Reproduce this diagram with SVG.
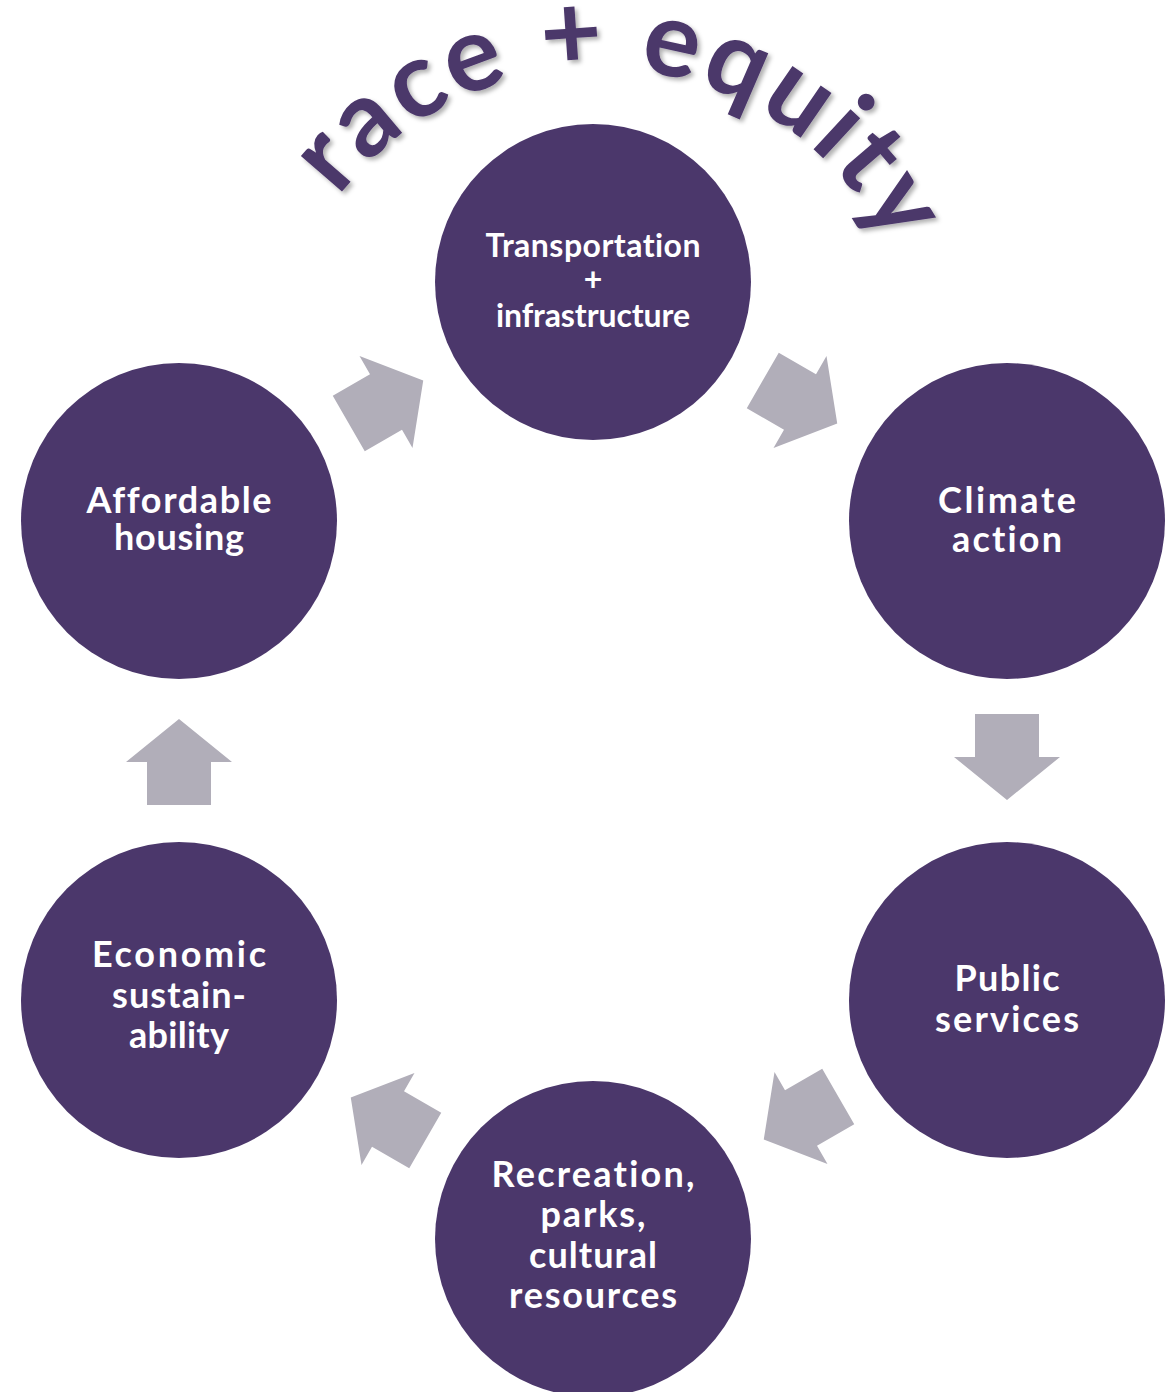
<svg xmlns="http://www.w3.org/2000/svg" xmlns:xlink="http://www.w3.org/1999/xlink" width="1171" height="1392" viewBox="0 0 1171 1392">
<style>
.node{fill:#4B376B}
.lbl{fill:#FFFFFF;font-family:Lato,"Liberation Sans",sans-serif;font-weight:700;font-size:36px;text-anchor:middle;font-variant-ligatures:none;font-feature-settings:"liga" 0,"clig" 0}
.sm{font-size:32px}
.arr{fill:#B1AEB9}
.title{fill:#4B376B;font-family:Lato,"Liberation Sans",sans-serif;font-weight:700;font-size:106px;letter-spacing:4px;font-variant-ligatures:none}
</style>
<defs>
<path id="arrow" d="M-43,-32 L0,-32 L0,-53 L43,0 L0,53 L0,32 L-43,32 Z"/>
<path id="arc" d="M272,394 A326,326 0 0 1 924,394"/>
<filter id="sh" x="-10%" y="-10%" width="120%" height="130%">
<feDropShadow dx="3" dy="3" stdDeviation="2" flood-color="#000" flood-opacity="0.3"/>
</filter>
</defs>
<rect width="1171" height="1392" fill="#FFFFFF"/>
<g id="title" filter="url(#sh)">
<text class="title"><textPath href="#arc" xlink:href="#arc" startOffset="543" text-anchor="middle">race + equity</textPath></text>
</g>
<g id="connectors" class="arr">
<use href="#arrow" xlink:href="#arrow" transform="translate(386,402) rotate(-30)"/>
<use href="#arrow" xlink:href="#arrow" transform="translate(800,402) rotate(30)"/>
<use href="#arrow" xlink:href="#arrow" transform="translate(1007,757) rotate(90)"/>
<use href="#arrow" xlink:href="#arrow" transform="translate(801,1118) rotate(150)"/>
<use href="#arrow" xlink:href="#arrow" transform="translate(388,1119) rotate(210)"/>
<use href="#arrow" xlink:href="#arrow" transform="translate(179,762) rotate(-90)"/>
</g>
<g id="node-transportation">
<circle class="node" cx="593" cy="282" r="158"/>
<text class="lbl sm" x="593" y="257" textLength="215" lengthAdjust="spacing">Transportation</text>
<text class="lbl sm" x="593" y="291">+</text>
<text class="lbl sm" x="593" y="327" textLength="194" lengthAdjust="spacing">infrastructure</text>
</g>
<g id="node-climate">
<circle class="node" cx="1007" cy="521" r="158"/>
<text class="lbl" x="1007" y="513" textLength="138" lengthAdjust="spacing">Climate</text>
<text class="lbl" x="1007" y="552" textLength="110" lengthAdjust="spacing">action</text>
</g>
<g id="node-public">
<circle class="node" cx="1007" cy="1000" r="158"/>
<text class="lbl" x="1007" y="991" textLength="105" lengthAdjust="spacing">Public</text>
<text class="lbl" x="1007" y="1032" textLength="144" lengthAdjust="spacing">services</text>
</g>
<g id="node-recreation">
<circle class="node" cx="593" cy="1239" r="158"/>
<text class="lbl" x="593" y="1187" textLength="203" lengthAdjust="spacing">Recreation,</text>
<text class="lbl" x="593" y="1227" textLength="105" lengthAdjust="spacing">parks,</text>
<text class="lbl" x="593" y="1268" textLength="128" lengthAdjust="spacing">cultural</text>
<text class="lbl" x="593" y="1308" textLength="168" lengthAdjust="spacing">resources</text>
</g>
<g id="node-economic">
<circle class="node" cx="179" cy="1000" r="158"/>
<text class="lbl" x="179" y="967" textLength="174" lengthAdjust="spacing">Economic</text>
<text class="lbl" x="179" y="1008" textLength="134" lengthAdjust="spacing">sustain-</text>
<text class="lbl" x="179" y="1048" textLength="100" lengthAdjust="spacing">ability</text>
</g>
<g id="node-affordable">
<circle class="node" cx="179" cy="521" r="158"/>
<text class="lbl" x="179" y="513" textLength="185" lengthAdjust="spacing">Affordable</text>
<text class="lbl" x="179" y="550" textLength="130" lengthAdjust="spacing">housing</text>
</g>
</svg>
